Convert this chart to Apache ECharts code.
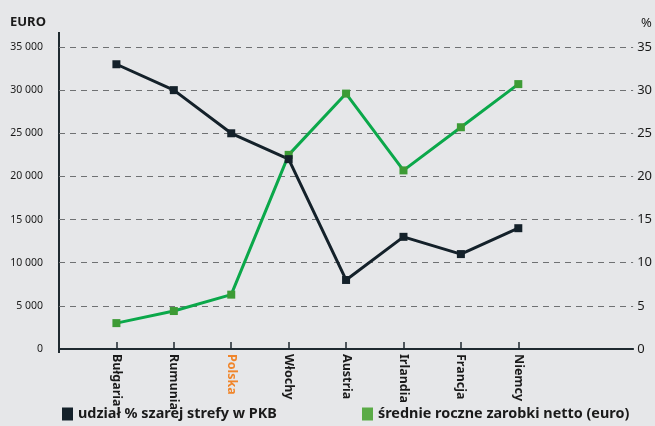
<!DOCTYPE html>
<html>
<head>
<meta charset="utf-8">
<script src="https://cdn.jsdelivr.net/npm/echarts@6/dist/echarts.min.js"></script>
<style>
  html, body { margin: 0; padding: 0; background: #e6e7e9; }
  #chart { width: 655px; height: 426px; }
</style>
</head>
<body>
<div id="chart"></div>
<script>
// empty slots at both ends keep the spacing of the original
const countries = ['', 'Bułgaria', 'Rumunia', 'Polska', 'Włochy', 'Austria', 'Irlandia', 'Francja', 'Niemcy', '', ''];
const shadowShare = [null, 33, 30, 25, 22, 8, 13, 11, 14, null, null];          // %
const netEarnings = [null, 3000, 4400, 6300, 22500, 29600, 20700, 25700, 30700, null, null]; // euro
const euroTicks = [0, 5000, 10000, 15000, 20000, 25000, 30000, 35000];

const font = 'Noto Sans';
const isCountry = (i) => countries[i] !== '';

let chart = echarts.init(document.getElementById('chart'));
chart.setOption({
    backgroundColor: '#e6e7e9',
    animation: false,
    textStyle: {fontFamily: font},
    grid: {left: 59, right: 21, top: 47, bottom: 77, containLabel: false},
    graphic: [
        {type: 'text', left: 10, top: 16, style: {text: 'EURO', font: 'bold 13px ' + font, fill: '#1a1a1a'}},
        {type: 'text', left: 641, top: 17, style: {text: '%', font: '13px ' + font, fill: '#1a1a1a'}},
        {type: 'line', shape: {x1: 59, y1: 32, x2: 59, y2: 353}, style: {stroke: '#1f2a30', lineWidth: 2}}
    ],
    legend: [
        {
            left: 57, top: 402, itemWidth: 11, itemHeight: 13, itemGap: 4,
            textStyle: {fontFamily: font, fontWeight: 'bold', fontSize: 14.4, color: '#1a1a1a'},
            data: [{name: 'udział % szarej strefy w PKB', icon: 'rect', itemStyle: {color: '#14212a'}}]
        },
        {
            left: 357, top: 402, itemWidth: 11, itemHeight: 13, itemGap: 4,
            textStyle: {fontFamily: font, fontWeight: 'bold', fontSize: 14.4, color: '#1a1a1a'},
            data: [{name: 'średnie roczne zarobki netto (euro)', icon: 'rect', itemStyle: {color: '#5aab46'}}]
        }
    ],
    xAxis: {
        type: 'category',
        data: countries,
        boundaryGap: false,
        axisLine: {lineStyle: {color: '#1f2a30', width: 2}},
        axisTick: {
            show: true, inside: true, length: 7,
            interval: (i) => isCountry(i),
            lineStyle: {color: '#1f2a30', width: 1.5}
        },
        axisLabel: {
            interval: 0,
            rotate: -90,
            margin: 5,
            fontFamily: font,
            fontWeight: 'bold',
            fontSize: 12.5,
            color: '#1a1a1a',
            formatter: (v) => v === 'Polska' ? '{pl|' + v + '}' : v,
            rich: {pl: {color: '#f0852a', fontWeight: 'bold', fontSize: 12.5, fontFamily: font}}
        },
        splitLine: {show: false}
    },
    yAxis: [
        {
            type: 'value',
            min: 0, max: 35000, interval: 5000,
            axisLine: {show: false},
            axisTick: {show: false},
            axisLabel: {
                margin: 16,
                fontFamily: font, fontSize: 10.5, color: '#1a1a1a',
                formatter: (v) => euroTicks.includes(v) ? (v >= 1000 ? Math.floor(v / 1000) + ' ' + String(v % 1000).padStart(3, '0') : String(v)) : ''
            },
            splitLine: {lineStyle: {color: '#6f7173', type: [6, 5], width: 1.2}}
        },
        {
            type: 'value',
            min: 0, max: 35, interval: 5,
            position: 'right',
            axisLine: {show: false},
            axisTick: {show: false},
            axisLabel: {margin: 4, fontFamily: font, fontSize: 13, color: '#1a1a1a'},
            splitLine: {show: false}
        }
    ],
    series: [
        {
            name: 'średnie roczne zarobki netto (euro)',
            type: 'line',
            yAxisIndex: 0,
            data: netEarnings,
            symbol: 'rect',
            symbolSize: 8,
            lineStyle: {color: '#0ba84a', width: 3},
            itemStyle: {color: '#3d9b35'}
        },
        {
            name: 'udział % szarej strefy w PKB',
            type: 'line',
            yAxisIndex: 1,
            data: shadowShare,
            symbol: 'rect',
            symbolSize: 8,
            lineStyle: {color: '#14212a', width: 3},
            itemStyle: {color: '#14212a'}
        }
    ]
});
</script>
</body>
</html>
